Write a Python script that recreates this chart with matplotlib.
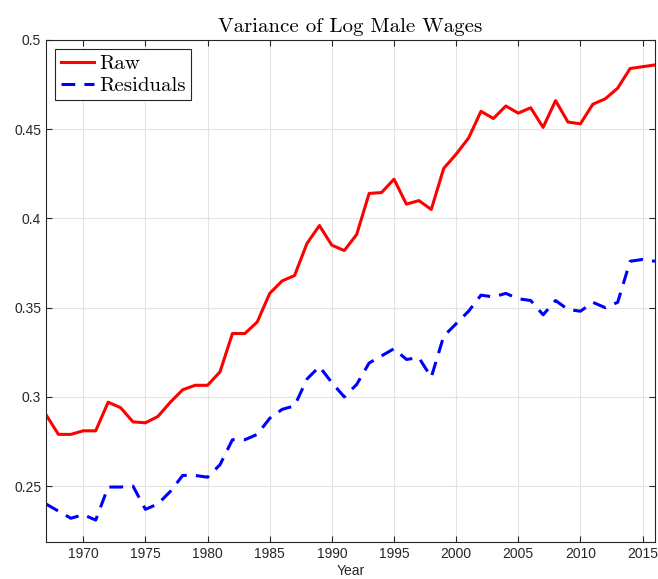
import numpy as np
import matplotlib.pyplot as plt

# Data
years = np.arange(1967, 2017)

raw = [0.290, 0.279, 0.279, 0.281, 0.281, 0.297, 0.294, 0.286, 0.2855, 0.289,
       0.297, 0.304, 0.3065, 0.3065, 0.314, 0.3355, 0.3355, 0.342, 0.358, 0.365,
       0.368, 0.386, 0.396, 0.385, 0.382, 0.391, 0.414, 0.4145, 0.422, 0.408,
       0.410, 0.405, 0.428, 0.436, 0.445, 0.460, 0.456, 0.463, 0.459, 0.462,
       0.451, 0.466, 0.454, 0.453, 0.464, 0.467, 0.473, 0.484, 0.485, 0.486]

residuals = [0.240, 0.236, 0.232, 0.234, 0.231, 0.2495, 0.2495, 0.250, 0.237, 0.240,
             0.247, 0.256, 0.256, 0.255, 0.262, 0.276, 0.276, 0.279, 0.288, 0.293,
             0.295, 0.310, 0.317, 0.308, 0.300, 0.307, 0.319, 0.323, 0.327, 0.321,
             0.322, 0.311, 0.334, 0.341, 0.348, 0.357, 0.356, 0.358, 0.355, 0.354,
             0.346, 0.354, 0.349, 0.348, 0.353, 0.350, 0.353, 0.376, 0.377, 0.376]

xticks = [1970, 1975, 1980, 1985, 1990, 1995, 2000, 2005, 2010, 2015]
yticks = [0.25, 0.3, 0.35, 0.4, 0.45, 0.5]
ytick_labels = ["0.25", "0.3", "0.35", "0.4", "0.45", "0.5"]

SERIF = "cmr10"
SANS = "Liberation Sans"

fig = plt.figure(figsize=(6.58, 5.79), dpi=100)
ax = fig.add_axes([0.0699, 0.0639, 0.9255, 0.8671])

ax.plot(years, raw, color="red", linewidth=2.2, label="Raw")
ax.plot(years, residuals, color="blue", linewidth=2.2, linestyle=(0, (4.5, 3)),
        label="Residuals")

ax.set_xlim(1967, 2016)
ax.set_ylim(0.2187, 0.5)
ax.set_xticks(xticks)
ax.set_yticks(yticks)
ax.set_yticklabels(ytick_labels)

for lbl in ax.get_xticklabels() + ax.get_yticklabels():
    lbl.set_fontfamily(SANS)
    lbl.set_fontsize(10)
    lbl.set_color("#262626")

ax.tick_params(direction="in", top=True, right=True, length=4, width=0.8,
               colors="#262626", labelcolor="#262626")
ax.grid(True, color="#e3e3e3", linewidth=0.8)
ax.set_axisbelow(True)
for sp in ax.spines.values():
    sp.set_color("#262626")
    sp.set_linewidth(0.8)

ax.set_xlabel("Year", fontfamily=SANS, fontsize=10, color="#262626", labelpad=2)
ax.set_title("Variance of Log Male Wages", fontfamily=SERIF, fontsize=15, pad=6)

leg = ax.legend(loc="upper left", prop={"family": SERIF, "size": 15},
                fancybox=False, edgecolor="#262626", framealpha=1,
                handlelength=1.6, handletextpad=0.25, borderpad=0.25,
                labelspacing=0.15, borderaxespad=0.45)
leg.get_frame().set_linewidth(0.8)

plt.savefig("out.png", dpi=100)
plt.close()
